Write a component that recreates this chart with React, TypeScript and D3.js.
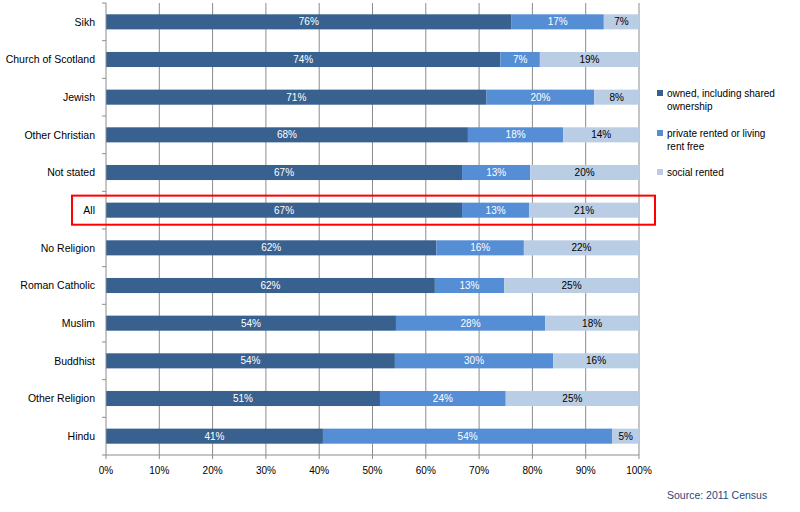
import * as d3 from 'd3';

// religion groups, top to bottom
const categories = [
  'Sikh',
  'Church of Scotland',
  'Jewish',
  'Other Christian',
  'Not stated',
  'All',
  'No Religion',
  'Roman Catholic',
  'Muslim',
  'Buddhist',
  'Other Religion',
  'Hindu',
];

// tenure shares (%)
const owned = [76.1, 74.0, 71.4, 67.9, 66.8, 66.8, 62.0, 61.7, 54.4, 54.2, 51.4, 40.7];
const privateRented = [17.3, 7.4, 20.2, 17.9, 12.8, 12.6, 16.4, 13.0, 28.0, 29.7, 23.6, 54.3];
const socialRented = [6.6, 18.6, 8.4, 14.2, 20.4, 20.6, 21.6, 25.3, 17.6, 16.1, 25.0, 5.0];

const seriesNames = [
  ['owned, including shared', 'ownership'],
  ['private rented or living', 'rent free'],
  ['social rented'],
];
const xTicks = [0, 10, 20, 30, 40, 50, 60, 70, 80, 90, 100];
const highlighted = 'All';

const colors = ['#38618f', '#558ed5', '#b9cde5'];
const labelColors = ['#ffffff', '#ffffff', '#000000'];
const font = '"Liberation Sans", Arial, sans-serif';

export default function App() {
  const width = 800;
  const height = 512;
  const plot = { left: 106, right: 639, top: 3, bottom: 455 };

  const x = d3.scaleLinear().domain([0, 100]).range([plot.left, plot.right]);
  const y = d3
    .scaleBand()
    .domain(categories)
    .range([plot.top, plot.bottom])
    .paddingInner(0.6)
    .paddingOuter(0.3);

  const series = [owned, privateRented, socialRented];
  const step = y.step();

  // stacked segments
  const segments = categories.flatMap((cat, i) => {
    let start = 0;
    return series.map((s, k) => {
      const seg = { cat, k, x0: start, x1: start + s[i], v: s[i] };
      start += s[i];
      return seg;
    });
  });

  const hl = y(highlighted) || 0;

  return (
    <svg
      width={width}
      height={height}
      style={{ position: 'absolute', left: 0, top: 0, background: '#fff', fontFamily: font }}
    >
      {/* gridlines */}
      {xTicks.slice(1).map((t) => (
        <line key={'g' + t} x1={x(t)} x2={x(t)} y1={plot.top} y2={plot.bottom} stroke="#8c8c8c" strokeWidth={1} />
      ))}

      {/* bars */}
      {segments.map((s) => (
        <rect
          key={s.cat + s.k}
          x={x(s.x0)}
          y={y(s.cat)}
          width={x(s.x1) - x(s.x0)}
          height={y.bandwidth()}
          fill={colors[s.k]}
        />
      ))}

      {/* value labels */}
      {segments.map((s) => (
        <text
          key={'l' + s.cat + s.k}
          x={(x(s.x0) + x(s.x1)) / 2}
          y={(y(s.cat) || 0) + y.bandwidth() / 2}
          dy="0.35em"
          textAnchor="middle"
          fontSize={10}
          fill={labelColors[s.k]}
        >
          {Math.round(s.v)}%
        </text>
      ))}

      {/* y axis */}
      <line x1={plot.left} x2={plot.left} y1={plot.top} y2={plot.bottom} stroke="#8c8c8c" />
      {d3.range(categories.length + 1).map((i) => (
        <line
          key={'yt' + i}
          x1={plot.left - 4}
          x2={plot.left}
          y1={plot.top + i * step}
          y2={plot.top + i * step}
          stroke="#8c8c8c"
        />
      ))}
      {categories.map((c) => (
        <text
          key={'c' + c}
          x={plot.left - 11}
          y={(y(c) || 0) + y.bandwidth() / 2}
          dy="0.35em"
          textAnchor="end"
          fontSize={10.5}
          fill="#000"
        >
          {c}
        </text>
      ))}

      {/* x axis */}
      <line x1={plot.left} x2={plot.right} y1={plot.bottom} y2={plot.bottom} stroke="#8c8c8c" />
      {xTicks.map((t) => (
        <g key={'xt' + t}>
          <line x1={x(t)} x2={x(t)} y1={plot.bottom} y2={plot.bottom + 4} stroke="#8c8c8c" />
          <text x={x(t)} y={plot.bottom + 15} dy="0.35em" textAnchor="middle" fontSize={10} fill="#000">
            {t}%
          </text>
        </g>
      ))}

      {/* highlight box */}
      <rect
        x={72}
        y={hl - 7}
        width={583}
        height={y.bandwidth() + 14}
        fill="none"
        stroke="#ff0000"
        strokeWidth={2}
      />

      {/* legend */}
      {seriesNames.map((lines, k) => {
        const ly = [93, 133, 172][k];
        return (
          <g key={'lg' + k}>
            <rect x={657} y={ly - 3} width={6} height={6} fill={colors[k]} />
            {lines.map((ln, j) => (
              <text key={ln} x={667} y={ly + j * 13} dy="0.35em" fontSize={10} fill="#000">
                {ln}
              </text>
            ))}
          </g>
        );
      })}

      <text x={667} y={495} dy="0.35em" fontSize={10.5} fill="#1f497d">
        Source: 2011 Census
      </text>
    </svg>
  );
}
